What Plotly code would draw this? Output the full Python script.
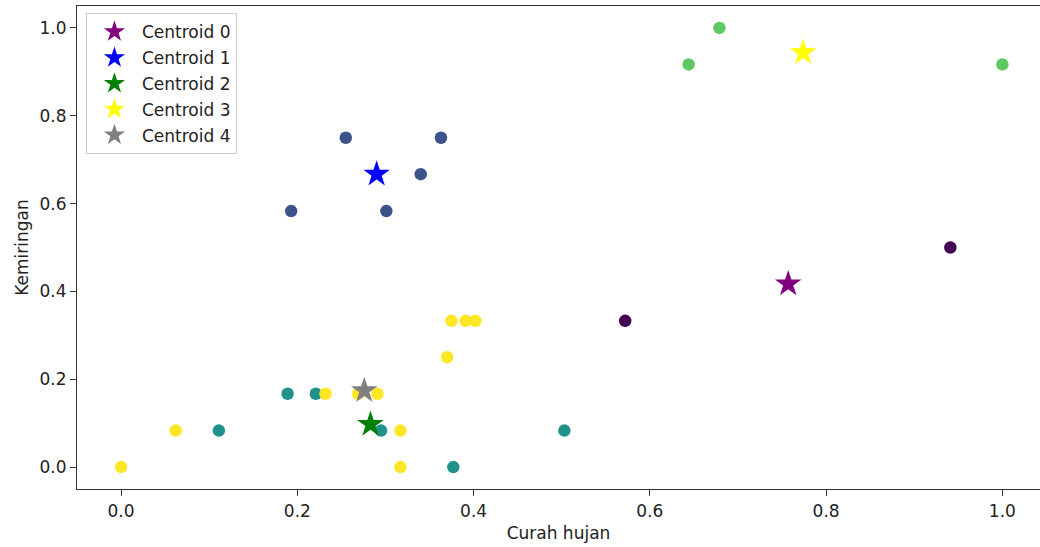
import plotly.graph_objects as go

# Normalised observations and their k-means cluster labels
curah_hujan = [0.572, 0.941,
               0.193, 0.255, 0.301, 0.340, 0.363,
               0.111, 0.189, 0.221, 0.295, 0.377, 0.503,
               0.644, 0.679, 1.000,
               0.000, 0.062, 0.232, 0.269, 0.291, 0.317, 0.317, 0.370, 0.375, 0.391, 0.402]
kemiringan = [0.333, 0.500,
              0.583, 0.750, 0.583, 0.667, 0.750,
              0.083, 0.167, 0.167, 0.083, 0.000, 0.083,
              0.917, 1.000, 0.917,
              0.000, 0.083, 0.167, 0.167, 0.167, 0.083, 0.000, 0.250, 0.333, 0.333, 0.333]
cluster = [0, 0,
           1, 1, 1, 1, 1,
           2, 2, 2, 2, 2, 2,
           3, 3, 3,
           4, 4, 4, 4, 4, 4, 4, 4, 4, 4, 4]

# Cluster centres
centroid_names = ["Centroid 0", "Centroid 1", "Centroid 2", "Centroid 3", "Centroid 4"]
centroid_x = [0.757, 0.290, 0.283, 0.774, 0.276]
centroid_y = [0.417, 0.667, 0.097, 0.944, 0.174]
centroid_colors = ["purple", "blue", "green", "yellow", "gray"]

tick_vals = [0, 0.2, 0.4, 0.6, 0.8, 1.0]
tick_text = ["0.0", "0.2", "0.4", "0.6", "0.8", "1.0"]

# viridis sampled at the five label values
viridis5 = ["#440154", "#3b528b", "#21918c", "#5ec962", "#fde725"]

fig = go.Figure()

for k in range(5):
    xs = [x for x, c in zip(curah_hujan, cluster) if c == k]
    ys = [y for y, c in zip(kemiringan, cluster) if c == k]
    fig.add_trace(go.Scatter(
        x=xs, y=ys, mode="markers", showlegend=False,
        marker=dict(size=12.5, color=viridis5[k], line=dict(width=0)),
        hoverinfo="x+y",
    ))

for name, cx, cy, col in zip(centroid_names, centroid_x, centroid_y, centroid_colors):
    fig.add_trace(go.Scatter(
        x=[cx], y=[cy], mode="markers", name=name, legendgroup=name,
        marker=dict(symbol="star", size=20, color=col, line=dict(width=0)),
    ))

font = "DejaVu Sans, sans-serif"
axis_common = dict(
    showgrid=False, zeroline=False, showline=True, linecolor="#333333", linewidth=1.2,
    ticks="outside", ticklen=6, tickcolor="#333333", tickwidth=1,
    tickfont=dict(family=font, size=17, color="#222222"),
    title_font=dict(family=font, size=17, color="#222222"),
)

fig.update_layout(
    width=1040, height=547,
    margin=dict(l=77, r=0, t=6, b=58),
    paper_bgcolor="white", plot_bgcolor="white",
    font=dict(family=font, size=17, color="#222222"),
    xaxis=dict(range=[-0.05, 1.0427], tickvals=tick_vals, ticktext=tick_text,
               title=dict(text="Curah hujan", standoff=7), mirror=True, **axis_common),
    yaxis=dict(range=[-0.05, 1.05], tickvals=tick_vals, ticktext=tick_text,
               title=dict(text="Kemiringan", standoff=6), mirror=False, **axis_common),
    legend=dict(
        x=0.0093, y=0.985, xanchor="left", yanchor="top",
        bgcolor="rgba(255,255,255,0.8)", bordercolor="#cccccc", borderwidth=1,
        font=dict(family=font, size=17, color="#222222"),
        tracegroupgap=0.7, itemwidth=45,
    ),
    showlegend=True,
)

fig.write_html("out.html")
